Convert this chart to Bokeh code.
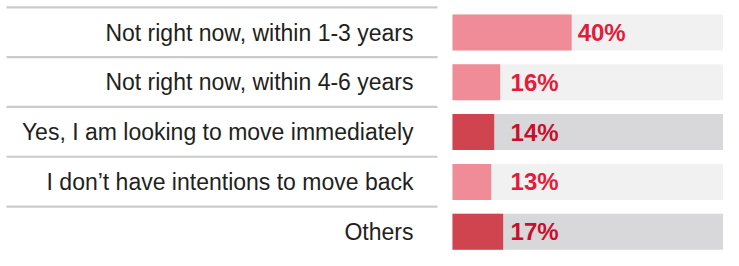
import numpy as np
from bokeh.plotting import figure
from bokeh.models import Range1d, ColumnDataSource
from bokeh.core.properties import value
from bokeh.embed import file_html
from bokeh.resources import INLINE

categories = [
    "Not right now, within 1-3 years",
    "Not right now, within 4-6 years",
    "Yes, I am looking to move immediately",
    "I don\u2019t have intentions to move back",
    "Others",
]
values = [40, 16, 14, 13, 17]
labels = ["40%", "16%", "14%", "13%", "17%"]
highlight = [False, False, True, False, True]

W, H = 723, 250
scale = 2.98           # px per percent
x0_px = 452            # canvas x of bar origin
row0_px = 32           # canvas y of first row centre
pitch = 49.8

x_start = -x0_px / scale
x_end = (W - x0_px) / scale
y_top = (0 - row0_px) / pitch
y_bot = (H - row0_px) / pitch

n = len(categories)
idx = np.arange(n)
vals = np.array(values, dtype=float)

bar_col = ["#D0444F" if h else "#F08C98" for h in highlight]
bg_col = ["#D8D8DA" if h else "#F0F1F0" for h in highlight]
lab_col = ["#C8102E" if h else "#E31B3C" for h in highlight]
lab_x = np.maximum(vals + 2.0, 19.5)

src = ColumnDataSource(dict(
    y=idx, v=vals, cat=categories, lab=labels, bar_col=bar_col,
    bg_col=bg_col, lab_col=lab_col, lab_x=lab_x,
))

p = figure(width=W, height=H, output_backend="svg", toolbar_location=None,
           x_range=Range1d(x_start, x_end), y_range=Range1d(y_bot, y_top),
           min_border=0, min_border_left=0, min_border_right=0,
           min_border_top=0, min_border_bottom=0)
p.axis.visible = False
p.grid.visible = False
p.outline_line_color = None
p.background_fill_color = "white"
p.border_fill_color = "white"

bh = 36.0 / pitch
# background bars
p.hbar(y="y", left=0, right=200, height=bh, fill_color="bg_col",
       line_color=None, source=src)
# value bars
p.hbar(y="y", left=0, right="v", height=bh, fill_color="bar_col",
       line_color=None, source=src)

# separator lines
sep_left = (6 - x0_px) / scale
sep_right = (437 - x0_px) / scale
p.segment(x0=sep_left, x1=sep_right, y0=idx - 0.505, y1=idx - 0.505,
          line_color="#CBCBCB", line_width=2.2)

# category labels
p.text(x=(413 - x0_px) / scale, y="y", text="cat", source=src,
       text_align="right", text_baseline="middle",
       text_font=value("Liberation Sans"), text_font_size="23px",
       text_color="#231F20")

# value labels
p.text(x="lab_x", y="y", text="lab", source=src,
       text_align="left", text_baseline="middle",
       text_font=value("Liberation Sans"), text_font_size="24px",
       text_font_style="bold", text_color="lab_col")

open("out.html", "w").write(file_html(p, INLINE))
